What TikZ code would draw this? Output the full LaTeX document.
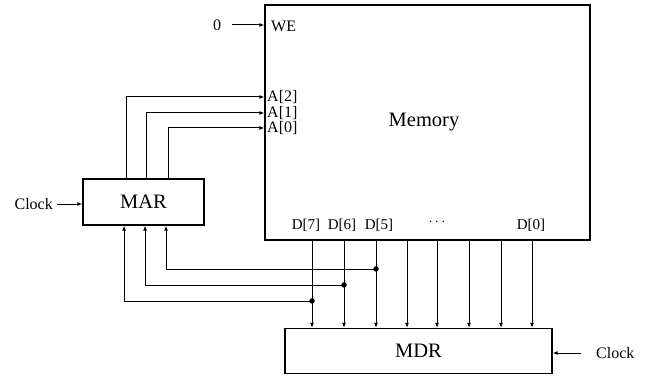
\documentclass[tikz,border=0pt]{standalone}
\usepackage{fontspec}
\setmainfont{Liberation Serif}
\usetikzlibrary{arrows.meta}
\begin{document}
\begin{tikzpicture}[x=1pt,y=-1pt,
  box/.style={draw,line width=1.1pt,rectangle,inner sep=0pt,font=\fontsize{20.5}{22}\selectfont},
  wire/.style={line width=1pt},
  arr/.style={wire,-{Latex[length=5pt,width=3.8pt]}},
  lbl/.style={inner sep=0pt,font=\fontsize{16}{17}\selectfont},
  dlbl/.style={inner sep=0pt,font=\fontsize{15}{16}\selectfont},
  dot/.style={circle,fill,inner sep=0pt,minimum size=5.5pt}]
\useasboundingbox (0,0) rectangle (667,377);
% boxes
\node[box,minimum width=325pt,minimum height=235pt] (mem) at (427.5,122.5) {};
\node[inner sep=0pt,font=\fontsize{20.5}{22}\selectfont] (memlbl) at (424,122) {Memory};
\node[box,minimum width=121pt,minimum height=46pt] (mar) at (143.5,202) {MAR};
\node[box,minimum width=267pt,minimum height=45pt] (mdr) at (418.5,351) {MDR};
% WE
\node[lbl] (zero) at (217,25) {0};
\node[lbl,anchor=west] (we) at (271,26) {WE};
\coordinate (zeroend) at (232,25);
\draw[arr] (zeroend) -- (zeroend -| mem.west);
% address labels
\node[lbl,anchor=west] (a2) at (267,97) {A[2]};
\node[lbl,anchor=west] (a1) at (267,113) {A[1]};
\node[lbl,anchor=west] (a0) at (267,128.5) {A[0]};
\coordinate (a2c) at (126,97);
\coordinate (a1c) at (146,113);
\coordinate (a0c) at (168,128);
\draw[arr] (mar.north -| a2c) -- (a2c) -- (a2c -| mem.west);
\draw[arr] (mar.north -| a1c) -- (a1c) -- (a1c -| mem.west);
\draw[arr] (mar.north -| a0c) -- (a0c) -- (a0c -| mem.west);
% clocks
\node[lbl,anchor=east] (clkl) at (53,204) {Clock};
\coordinate (clklend) at (57,204);
\draw[arr] (clklend) -- (clklend -| mar.west);
\node[lbl,anchor=west] (clkr) at (596,353) {Clock};
\coordinate (clkrend) at (581,353);
\draw[arr] (clkrend) -- (clkrend -| mdr.east);
% data labels
\node[dlbl] (d7) at (306,225) {D[7]};
\node[dlbl] (d6) at (342,225) {D[6]};
\node[dlbl] (d5) at (379,225) {D[5]};
\node[dlbl] (dd) at (437,222) {$\cdots$};
\node[dlbl] (d0) at (531,225) {D[0]};
% data lines
\foreach \x/\n in {312/7,344/6,376/5,407/4,437/3,469/2,501/1,532/0}{
  \coordinate (dx\n) at (\x,0);
  \draw[arr] (mem.south -| dx\n) -- (mdr.north -| dx\n);
}
% feedback to MAR
\coordinate (j7) at (312,301);
\coordinate (j6) at (344,285);
\coordinate (j5) at (376,269);
\coordinate (m7) at (124,0);
\coordinate (m6) at (145,0);
\coordinate (m5) at (166,0);
\draw[arr] (j7) -- (j7 -| m7) -- (mar.south -| m7);
\draw[arr] (j6) -- (j6 -| m6) -- (mar.south -| m6);
\draw[arr] (j5) -- (j5 -| m5) -- (mar.south -| m5);
\node[dot] at (j7) {};
\node[dot] at (j6) {};
\node[dot] at (j5) {};
\end{tikzpicture}
\end{document}
